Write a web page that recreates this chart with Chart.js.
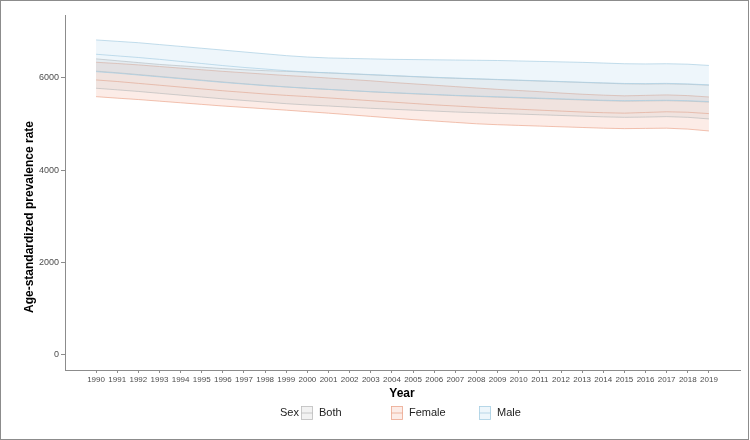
<!DOCTYPE html>
<html>
<head>
<meta charset="utf-8">
<script src="https://cdn.jsdelivr.net/npm/chart.js@4.4.1/dist/chart.umd.min.js"></script>
<style>
  html, body { margin: 0; padding: 0; background: #fff; }
  #wrap { width: 750px; height: 440px; }
</style>
</head>
<body>
<div id="wrap"><canvas id="chart" width="750" height="440"></canvas></div>
<script>
// data (age-standardized prevalence rate)
const years = [1990, 1991, 1992, 1993, 1994, 1995, 1996, 1997, 1998, 1999,
               2000, 2001, 2002, 2003, 2004, 2005, 2006, 2007, 2008, 2009,
               2010, 2011, 2012, 2013, 2014, 2015, 2016, 2017, 2018, 2019];
const yTicks = [0, 2000, 4000, 6000];

const maleUpper = [6820, 6790, 6760, 6720, 6680, 6640, 6600, 6560, 6520, 6480,
                   6450, 6430, 6420, 6410, 6400, 6395, 6390, 6385, 6380, 6375,
                   6365, 6355, 6345, 6335, 6320, 6305, 6300, 6305, 6295, 6268];
const maleMean = [6510, 6475, 6440, 6400, 6355, 6310, 6265, 6225, 6190, 6155,
                  6125, 6110, 6090, 6070, 6050, 6030, 6012, 5995, 5980, 5965,
                  5950, 5935, 5920, 5905, 5890, 5878, 5875, 5880, 5868, 5848];
const maleLower = [6133, 6100, 6060, 6020, 5980, 5940, 5900, 5865, 5830, 5800,
                   5774, 5750, 5725, 5700, 5680, 5660, 5640, 5620, 5605, 5590,
                   5575, 5560, 5545, 5530, 5515, 5505, 5510, 5515, 5505, 5485];

const bothUpper = [6410, 6370, 6330, 6290, 6260, 6230, 6200, 6175, 6155, 6140,
                   6125, 6105, 6085, 6065, 6045, 6025, 6005, 5990, 5975, 5960,
                   5945, 5930, 5915, 5900, 5885, 5870, 5865, 5870, 5860, 5840];
const bothMean = [6145, 6110, 6070, 6030, 5990, 5950, 5910, 5872, 5836, 5804,
                  5774, 5748, 5722, 5697, 5675, 5654, 5634, 5614, 5598, 5582,
                  5566, 5551, 5536, 5521, 5506, 5495, 5500, 5505, 5495, 5475];
const bothLower = [5774, 5740, 5705, 5665, 5625, 5585, 5545, 5510, 5475, 5440,
                   5413, 5390, 5365, 5340, 5320, 5300, 5280, 5260, 5245, 5230,
                   5215, 5200, 5185, 5170, 5155, 5145, 5150, 5160, 5145, 5110];

const femaleUpper = [6337, 6310, 6280, 6245, 6210, 6175, 6140, 6110, 6080, 6050,
                     6025, 5995, 5965, 5935, 5900, 5870, 5840, 5810, 5780, 5750,
                     5725, 5700, 5670, 5645, 5625, 5610, 5620, 5630, 5615, 5585];
const femaleMean = [5954, 5920, 5880, 5840, 5800, 5760, 5720, 5685, 5650, 5620,
                    5594, 5565, 5535, 5505, 5475, 5445, 5415, 5390, 5365, 5340,
                    5320, 5300, 5280, 5260, 5245, 5235, 5250, 5265, 5255, 5225];
const femaleLower = [5592, 5560, 5530, 5495, 5460, 5425, 5390, 5360, 5330, 5300,
                     5267, 5235, 5200, 5165, 5130, 5095, 5065, 5035, 5005, 4985,
                     4970, 4955, 4940, 4925, 4910, 4900, 4905, 4910, 4890, 4850];

const sexLabels = ['Both', 'Female', 'Male'];

const FONT = "'Liberation Sans Narrow', 'Liberation Sans', Arial, sans-serif";
const colors = {
  Male:   { line: '#a9cfe3', fill: 'rgba(170,212,236,0.2)' },
  Both:   { line: '#bdbdbd', fill: 'rgba(190,190,190,0.2)' },
  Female: { line: '#eba991', fill: 'rgba(238,160,134,0.2)' }
};

const xy = arr => arr.map((v, i) => ({ x: years[i], y: v }));

function band(name, upper, mean, lower) {
  const c = colors[name];
  const base = { borderColor: c.line, borderWidth: 0.7, pointRadius: 0, tension: 0 };
  return [
    { ...base, label: name + ' upper', data: xy(upper), fill: '+2', backgroundColor: c.fill },
    { ...base, label: name, data: xy(mean), fill: false },
    { ...base, label: name + ' lower', data: xy(lower), fill: false }
  ];
}

const datasets = [
  ...band('Male', maleUpper, maleMean, maleLower),
  ...band('Both', bothUpper, bothMean, bothLower),
  ...band('Female', femaleUpper, femaleMean, femaleLower)
];

// titles, legend and frame drawn by hand, ggplot style
const decorations = {
  id: 'decorations',
  afterDraw(chart) {
    const ctx = chart.ctx;
    ctx.save();
    ctx.fillStyle = '#000';
    ctx.textBaseline = 'middle';

    ctx.font = 'bold 12px ' + FONT;
    ctx.textAlign = 'center';
    ctx.fillText('Year', 402, 394);

    ctx.save();
    ctx.translate(30, 217);
    ctx.rotate(-Math.PI / 2);
    ctx.fillText('Age-standardized prevalence rate', 0, 0);
    ctx.restore();

    // legend
    ctx.font = '11px ' + FONT;
    ctx.textAlign = 'left';
    ctx.fillStyle = '#222';
    ctx.fillText('Sex', 280, 413);
    const keyX = [301, 391, 479];
    sexLabels.forEach((name, i) => {
      const c = colors[name];
      const x = keyX[i], y = 406;
      ctx.fillStyle = '#fff';
      ctx.fillRect(x, y, 12, 14);
      ctx.fillStyle = c.fill;
      ctx.fillRect(x, y, 12, 14);
      ctx.strokeStyle = c.line;
      ctx.lineWidth = 0.8;
      ctx.strokeRect(x + 0.5, y + 0.5, 11, 13);
      ctx.beginPath();
      ctx.moveTo(x, y + 7);
      ctx.lineTo(x + 12, y + 7);
      ctx.stroke();
      ctx.fillStyle = '#222';
      ctx.fillText(name, x + 18, 413);
    });

    // figure frame
    ctx.strokeStyle = '#8c8c8c';
    ctx.lineWidth = 1;
    ctx.strokeRect(0.5, 0.5, 748, 439);
    ctx.restore();
  }
};

new Chart(document.getElementById('chart'), {
  type: 'line',
  data: { datasets },
  options: {
    responsive: false,
    animation: false,
    layout: { padding: { left: 0, top: 15, right: 10, bottom: 0 } },
    plugins: {
      legend: { display: false },
      tooltip: { enabled: false },
      filler: { propagate: false }
    },
    scales: {
      x: {
        type: 'linear',
        min: 1988.53,
        max: 2020.47,
        afterBuildTicks: s => { s.ticks = years.map(v => ({ value: v })); },
        afterFit: s => { s.height = 70; },
        ticks: {
          autoSkip: false,
          maxRotation: 0,
          padding: 2,
          color: '#4d4d4d',
          font: { family: FONT, size: 8 },
          callback: v => String(v)
        },
        grid: { drawOnChartArea: false, drawTicks: true, tickLength: 3, color: '#8c8c8c' },
        border: { display: true, color: '#8c8c8c', width: 1 }
      },
      y: {
        min: -325,
        max: 7360,
        afterBuildTicks: s => { s.ticks = yTicks.map(v => ({ value: v })); },
        afterFit: s => { s.width = 65; },
        ticks: {
          padding: 2,
          color: '#4d4d4d',
          font: { family: FONT, size: 9 },
          callback: v => String(v)
        },
        grid: { drawOnChartArea: false, drawTicks: true, tickLength: 4, color: '#8c8c8c' },
        border: { display: true, color: '#8c8c8c', width: 1 }
      }
    }
  },
  plugins: [decorations]
});
</script>
</body>
</html>
